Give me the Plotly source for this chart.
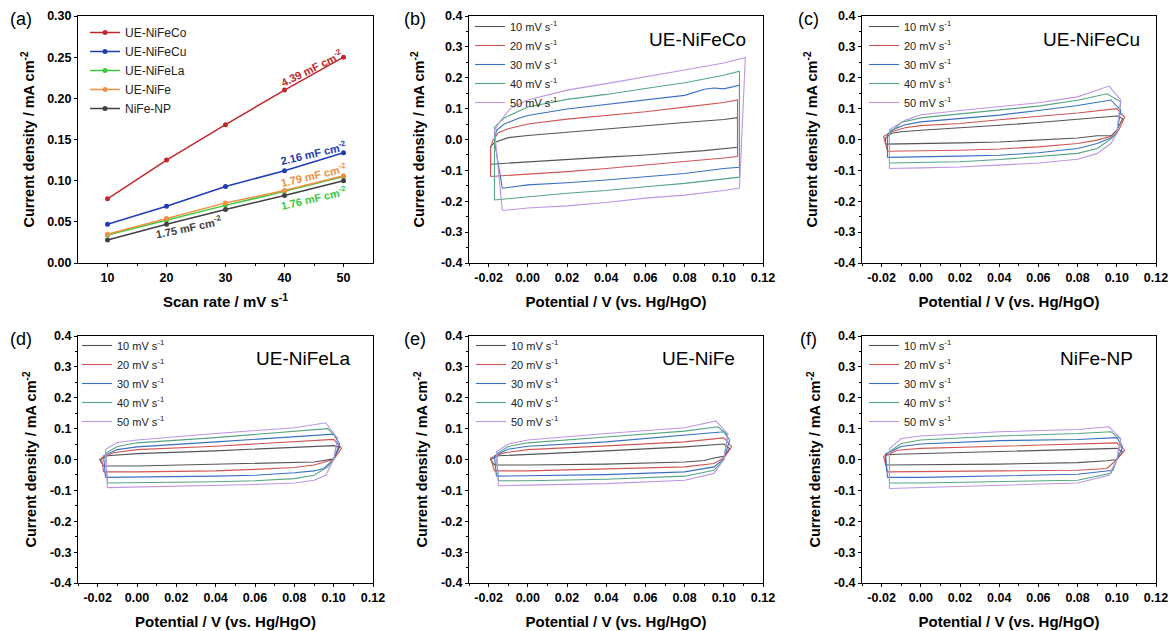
import plotly.graph_objects as go

W, H = 1172, 631

# ---------------- Panel (a) data ----------------
scan_rates = [10, 20, 30, 40, 50]
samples_a = ["UE-NiFeCo", "UE-NiFeCu", "UE-NiFeLa", "UE-NiFe", "NiFe-NP"]
j_NiFeCo = [0.078, 0.125, 0.168, 0.210, 0.250]
j_NiFeCu = [0.047, 0.069, 0.093, 0.112, 0.134]
j_NiFeLa = [0.034, 0.052, 0.070, 0.087, 0.105]
j_NiFe = [0.035, 0.054, 0.073, 0.088, 0.106]
j_NiFeNP = [0.028, 0.047, 0.065, 0.082, 0.100]
colors_a = ["#C0282D", "#1E3CB4", "#3CC83C", "#F09040", "#404040"]
cdl_labels = ["4.39 mF cm<sup>-2</sup>", "2.16 mF cm<sup>-2</sup>", "1.76 mF cm<sup>-2</sup>",
              "1.79 mF cm<sup>-2</sup>", "1.75 mF cm<sup>-2</sup>"]

# ---------------- CV data (potential V, current mA cm-2) ----------------
rate_labels = ["10 mV s<sup>-1</sup>", "20 mV s<sup>-1</sup>", "30 mV s<sup>-1</sup>",
               "40 mV s<sup>-1</sup>", "50 mV s<sup>-1</sup>"]
cv_colors = ["#555555", "#D05555", "#3A70C4", "#55A585", "#BC96E4"]

# (b) UE-NiFeCo
b10 = [(-0.019, -0.080), (-0.019, -0.023), (-0.017, -0.010), (-0.010, 0.006), (0.0, 0.013), (0.02, 0.024),
       (0.04, 0.033), (0.06, 0.045), (0.08, 0.055), (0.10, 0.065), (0.107, 0.071), (0.107, 0.030),
       (0.107, -0.025), (0.09, -0.036), (0.08, -0.041), (0.06, -0.050), (0.04, -0.057), (0.02, -0.065),
       (0.0, -0.072), (-0.015, -0.077), (-0.019, -0.080)]
b20 = [(-0.019, -0.120), (-0.019, -0.030), (-0.018, -0.005), (-0.015, 0.022), (-0.010, 0.035), (0.0, 0.050),
       (0.02, 0.066), (0.04, 0.078), (0.06, 0.090), (0.08, 0.105), (0.10, 0.120), (0.107, 0.128),
       (0.107, -0.055), (0.10, -0.060), (0.08, -0.072), (0.06, -0.083), (0.04, -0.094), (0.02, -0.104),
       (0.0, -0.112), (-0.019, -0.118), (-0.019, -0.120)]
b30 = [(-0.013, -0.158), (-0.017, -0.005), (-0.016, 0.030), (-0.012, 0.050), (-0.005, 0.068), (0.0, 0.078),
       (0.02, 0.099), (0.04, 0.114), (0.06, 0.129), (0.08, 0.143), (0.09, 0.163), (0.095, 0.167),
       (0.10, 0.164), (0.108, 0.176), (0.108, -0.090), (0.10, -0.094), (0.08, -0.110), (0.06, -0.121),
       (0.04, -0.131), (0.02, -0.140), (0.0, -0.147), (-0.013, -0.158)]
b40 = [(-0.017, -0.196), (-0.017, 0.040), (-0.012, 0.070), (-0.005, 0.092), (0.0, 0.105), (0.02, 0.130),
       (0.04, 0.146), (0.06, 0.165), (0.08, 0.184), (0.10, 0.208), (0.108, 0.221), (0.108, -0.122),
       (0.10, -0.128), (0.08, -0.142), (0.06, -0.153), (0.04, -0.165), (0.02, -0.174), (0.0, -0.186),
       (-0.017, -0.196)]
b50 = [(-0.013, -0.230), (-0.017, 0.030), (-0.014, 0.060), (-0.009, 0.100), (0.0, 0.128), (0.02, 0.160),
       (0.04, 0.181), (0.06, 0.202), (0.08, 0.225), (0.10, 0.248), (0.111, 0.266), (0.108, -0.157),
       (0.10, -0.165), (0.08, -0.180), (0.06, -0.190), (0.04, -0.204), (0.02, -0.215), (0.0, -0.222),
       (-0.013, -0.230)]

# (c) UE-NiFeCu
c10 = [(-0.018, -0.015), (-0.018, 0.005), (-0.015, 0.020), (-0.010, 0.025), (0.0, 0.030), (0.02, 0.037),
       (0.04, 0.046), (0.06, 0.055), (0.08, 0.066), (0.10, 0.076), (0.103, 0.068), (0.100, 0.030),
       (0.097, 0.012), (0.09, 0.012), (0.08, 0.005), (0.06, -0.002), (0.04, -0.008), (0.02, -0.011),
       (0.0, -0.013), (-0.018, -0.015)]
c20 = [(-0.017, -0.038), (-0.019, 0.010), (-0.015, 0.025), (-0.008, 0.038), (0.0, 0.045), (0.02, 0.052),
       (0.04, 0.064), (0.06, 0.075), (0.08, 0.086), (0.10, 0.100), (0.104, 0.072), (0.101, 0.030),
       (0.098, 0.012), (0.09, -0.002), (0.08, -0.013), (0.06, -0.024), (0.04, -0.031), (0.02, -0.035),
       (0.0, -0.037), (-0.017, -0.038)]
c30 = [(-0.017, -0.058), (-0.017, 0.015), (-0.015, 0.030), (-0.008, 0.048), (0.0, 0.057), (0.02, 0.068),
       (0.04, 0.079), (0.06, 0.094), (0.08, 0.110), (0.097, 0.128), (0.102, 0.095), (0.100, 0.020),
       (0.098, 0.008), (0.09, -0.013), (0.08, -0.029), (0.06, -0.043), (0.04, -0.051), (0.02, -0.054),
       (0.0, -0.056), (-0.017, -0.058)]
c40 = [(-0.016, -0.076), (-0.016, 0.020), (-0.010, 0.055), (0.0, 0.070), (0.02, 0.083), (0.04, 0.095),
       (0.06, 0.108), (0.08, 0.127), (0.095, 0.148), (0.102, 0.122), (0.100, 0.020), (0.097, 0.002),
       (0.09, -0.029), (0.08, -0.045), (0.06, -0.056), (0.04, -0.065), (0.02, -0.072), (0.0, -0.075),
       (-0.016, -0.076)]
c50 = [(-0.016, -0.094), (-0.016, 0.032), (-0.008, 0.062), (0.0, 0.080), (0.02, 0.094), (0.04, 0.106),
       (0.06, 0.119), (0.08, 0.138), (0.096, 0.173), (0.102, 0.128), (0.100, 0.020), (0.097, -0.013),
       (0.09, -0.045), (0.08, -0.064), (0.06, -0.076), (0.04, -0.083), (0.02, -0.089), (0.0, -0.092),
       (-0.016, -0.094)]

# (d) UE-NiFeLa
d10 = [(-0.017, -0.021), (-0.019, 0.000), (-0.015, 0.012), (0.0, 0.019), (0.04, 0.028), (0.08, 0.039),
       (0.10, 0.045), (0.103, 0.040), (0.100, 0.002), (0.09, -0.008), (0.06, -0.013), (0.04, -0.016),
       (0.0, -0.021), (-0.017, -0.021)]
d20 = [(-0.017, -0.040), (-0.018, 0.005), (-0.012, 0.022), (0.0, 0.032), (0.04, 0.043), (0.08, 0.057),
       (0.10, 0.065), (0.104, 0.036), (0.100, 0.000), (0.09, -0.018), (0.08, -0.026), (0.06, -0.032),
       (0.04, -0.037), (0.0, -0.040), (-0.017, -0.040)]
d30 = [(-0.016, -0.058), (-0.017, 0.012), (-0.010, 0.032), (0.0, 0.041), (0.04, 0.057), (0.08, 0.074),
       (0.10, 0.082), (0.103, 0.050), (0.100, 0.000), (0.095, -0.029), (0.09, -0.037), (0.08, -0.043),
       (0.06, -0.051), (0.04, -0.054), (0.0, -0.058), (-0.016, -0.058)]
d40 = [(-0.015, -0.076), (-0.016, 0.020), (-0.010, 0.042), (0.0, 0.054), (0.04, 0.071), (0.08, 0.090),
       (0.097, 0.100), (0.102, 0.068), (0.100, 0.000), (0.097, -0.024), (0.09, -0.051), (0.08, -0.062),
       (0.06, -0.069), (0.04, -0.072), (0.0, -0.075), (-0.015, -0.076)]
d50 = [(-0.015, -0.091), (-0.016, 0.033), (-0.010, 0.055), (0.0, 0.063), (0.04, 0.084), (0.08, 0.103),
       (0.096, 0.119), (0.102, 0.068), (0.100, 0.000), (0.096, -0.051), (0.09, -0.067), (0.08, -0.076),
       (0.06, -0.081), (0.04, -0.084), (0.0, -0.089), (-0.015, -0.091)]

# (e) UE-NiFe
e10 = [(-0.017, -0.018), (-0.019, 0.000), (-0.015, 0.012), (0.0, 0.017), (0.04, 0.028), (0.08, 0.041),
       (0.10, 0.050), (0.103, 0.035), (0.100, 0.010), (0.095, 0.005), (0.09, -0.003), (0.08, -0.008),
       (0.04, -0.015), (0.0, -0.018), (-0.017, -0.018)]
e20 = [(-0.017, -0.037), (-0.019, 0.005), (-0.012, 0.022), (0.0, 0.032), (0.04, 0.044), (0.08, 0.057),
       (0.10, 0.070), (0.104, 0.041), (0.100, 0.005), (0.095, -0.013), (0.08, -0.024), (0.04, -0.031),
       (0.0, -0.037), (-0.017, -0.037)]
e30 = [(-0.016, -0.054), (-0.017, 0.012), (-0.010, 0.033), (0.0, 0.043), (0.04, 0.057), (0.08, 0.079),
       (0.10, 0.090), (0.103, 0.063), (0.100, 0.002), (0.095, -0.024), (0.08, -0.040), (0.04, -0.049),
       (0.0, -0.054), (-0.016, -0.054)]
e40 = [(-0.015, -0.069), (-0.016, 0.018), (-0.010, 0.042), (0.0, 0.054), (0.04, 0.073), (0.08, 0.092),
       (0.097, 0.106), (0.102, 0.080), (0.100, 0.000), (0.095, -0.035), (0.08, -0.054), (0.04, -0.064),
       (0.0, -0.069), (-0.015, -0.069)]
e50 = [(-0.015, -0.085), (-0.016, 0.025), (-0.010, 0.050), (0.0, 0.063), (0.04, 0.084), (0.08, 0.103),
       (0.096, 0.125), (0.102, 0.083), (0.100, 0.000), (0.095, -0.045), (0.08, -0.067), (0.04, -0.078),
       (0.0, -0.083), (-0.015, -0.085)]

# (f) NiFe-NP
f10 = [(-0.018, -0.018), (-0.018, 0.015), (-0.012, 0.017), (0.0, 0.019), (0.04, 0.025), (0.08, 0.032),
       (0.10, 0.036), (0.103, 0.025), (0.100, 0.000), (0.095, -0.004), (0.08, -0.010), (0.04, -0.015),
       (0.0, -0.018), (-0.018, -0.018)]
f20 = [(-0.017, -0.040), (-0.019, 0.010), (-0.012, 0.030), (0.0, 0.036), (0.04, 0.043), (0.08, 0.050),
       (0.10, 0.054), (0.104, 0.030), (0.100, 0.000), (0.095, -0.029), (0.08, -0.035), (0.04, -0.037),
       (0.0, -0.040), (-0.017, -0.040)]
f30 = [(-0.017, -0.058), (-0.018, 0.018), (-0.010, 0.042), (0.0, 0.050), (0.04, 0.061), (0.08, 0.065),
       (0.10, 0.071), (0.103, 0.040), (0.100, 0.000), (0.098, -0.035), (0.08, -0.048), (0.04, -0.054),
       (0.0, -0.058), (-0.017, -0.058)]
f40 = [(-0.016, -0.076), (-0.016, 0.025), (-0.010, 0.052), (0.0, 0.063), (0.04, 0.076), (0.08, 0.084),
       (0.097, 0.090), (0.102, 0.065), (0.100, 0.000), (0.097, -0.045), (0.08, -0.067), (0.04, -0.072),
       (0.0, -0.076), (-0.016, -0.076)]
f50 = [(-0.016, -0.094), (-0.016, 0.035), (-0.010, 0.068), (0.0, 0.076), (0.04, 0.090), (0.08, 0.097),
       (0.096, 0.106), (0.102, 0.068), (0.100, 0.000), (0.096, -0.051), (0.08, -0.076), (0.04, -0.083),
       (0.0, -0.092), (-0.016, -0.094)]

cv_names = ["UE-NiFeCo", "UE-NiFeCu", "UE-NiFeLa", "UE-NiFe", "NiFe-NP"]
cv_sets = [[b10, b20, b30, b40, b50], [c10, c20, c30, c40, c50], [d10, d20, d30, d40, d50],
           [e10, e20, e30, e40, e50], [f10, f20, f30, f40, f50]]

cv_xticks = [-0.02, 0.00, 0.02, 0.04, 0.06, 0.08, 0.10, 0.12]
cv_xticktext = ["-0.02", "0.00", "0.02", "0.04", "0.06", "0.08", "0.10", "0.12"]
cv_yticks = [-0.4, -0.3, -0.2, -0.1, 0.0, 0.1, 0.2, 0.3, 0.4]
cv_yticktext = ["-0.4", "-0.3", "-0.2", "-0.1", "0.0", "0.1", "0.2", "0.3", "0.4"]
a_yticks = [0.00, 0.05, 0.10, 0.15, 0.20, 0.25, 0.30]

# ---------------- layout geometry (pixels) ----------------
FONT = "Liberation Sans, Arial, sans-serif"
boxes = [(78, 373, 16, 263), (469, 763, 16, 263), (862, 1156, 16, 263),
         (78, 373, 336, 583), (469, 763, 336, 583), (862, 1156, 336, 583)]
ytitle_standoff = [8.5, 12, 12, 9, 9, 9]


def dom_x(l, r):
    return [l / W, r / W]


def dom_y(t, b):
    return [1 - b / H, 1 - t / H]


fig = go.Figure()

series_a = [j_NiFeCo, j_NiFeCu, j_NiFeLa, j_NiFe, j_NiFeNP]
for name, vals, col in zip(samples_a, series_a, colors_a):
    fig.add_trace(go.Scatter(x=scan_rates, y=vals, mode="lines+markers", name=name,
                             line=dict(color=col, width=1.5), marker=dict(color=col, size=5),
                             xaxis="x", yaxis="y", legend="legend"))

for k, curves in enumerate(cv_sets):
    ax = str(k + 2)
    for lab, col, pts in zip(rate_labels, cv_colors, curves):
        fig.add_trace(go.Scatter(x=[p[0] for p in pts], y=[p[1] for p in pts], mode="lines",
                                 name=lab, line=dict(color=col, width=1.1),
                                 xaxis="x" + ax, yaxis="y" + ax, legend="legend" + ax))

axis_common = dict(showline=True, linecolor="black", linewidth=1, mirror=True, showgrid=False,
                   zeroline=False, ticks="outside", ticklen=3, tickwidth=1, tickcolor="black",
                   automargin=True,
                   tickfont=dict(family=FONT, size=12.5, color="black", weight="bold"))

layout = dict(width=W, height=H, margin=dict(l=0, r=0, t=0, b=0, autoexpand=False),
              plot_bgcolor="white", paper_bgcolor="white", showlegend=True, hovermode=False,
              font=dict(family=FONT, color="black"))

for i, (l, r, t, b) in enumerate(boxes):
    sx = "" if i == 0 else str(i + 1)
    xa = dict(axis_common, domain=dom_x(l, r), anchor="y" + sx)
    ya = dict(axis_common, domain=dom_y(t, b), anchor="x" + sx)
    if i == 0:
        xa.update(range=[5, 55], tickvals=scan_rates,
                  minor=dict(ticks="outside", ticklen=2, tickvals=[15, 25, 35, 45], tickcolor="black"),
                  title=dict(text="Scan rate / mV s<sup>-1</sup>", standoff=12,
                             font=dict(family=FONT, size=15, weight="bold")))
        ya.update(range=[0, 0.30], tickvals=a_yticks, tickformat=".2f",
                  title=dict(text="Current density / mA cm<sup>-2</sup>", standoff=ytitle_standoff[i],
                             font=dict(family=FONT, size=14.5, weight="bold")))
    else:
        xa.update(range=[-0.03, 0.12], tickvals=cv_xticks, ticktext=cv_xticktext,
                  minor=dict(ticks="outside", ticklen=2, dtick=0.01, tick0=0, tickcolor="black"),
                  title=dict(text="Potential / V (vs. Hg/HgO)", standoff=12,
                             font=dict(family=FONT, size=15, weight="bold")))
        ya.update(range=[-0.4, 0.4], tickvals=cv_yticks, ticktext=cv_yticktext,
                  minor=dict(ticks="outside", ticklen=2, dtick=0.05, tick0=0, tickcolor="black"),
                  title=dict(text="Current density / mA cm<sup>-2</sup>", standoff=ytitle_standoff[i],
                             font=dict(family=FONT, size=14.5, weight="bold")))
    layout["xaxis" + sx] = xa
    layout["yaxis" + sx] = ya

leg_pos = [(85, 18), (470, 12), (864, 12), (77, 331), (471, 331), (864, 331)]
for i, (lx, ly) in enumerate(leg_pos):
    key = "legend" if i == 0 else "legend" + str(i + 1)
    layout[key] = dict(x=lx / W, y=1 - ly / H, xanchor="left", yanchor="top",
                       bgcolor="rgba(0,0,0,0)", borderwidth=0, tracegroupgap=0,
                       font=dict(family=FONT, size=12 if i == 0 else 11, color="#222222"))

fig.update_layout(**layout)

panel_labels = ["(a)", "(b)", "(c)", "(d)", "(e)", "(f)"]
label_pos = [(21, 19), (415, 19), (808, 19), (21, 339), (415, 339), (808, 339)]
for txt, (px, py) in zip(panel_labels, label_pos):
    fig.add_annotation(text=txt, xref="paper", yref="paper", x=px / W, y=1 - py / H,
                       xanchor="center", yanchor="middle", showarrow=False,
                       font=dict(family=FONT, size=18, color="black"))

name_pos = [(748, 39.5), (1142, 39.5), (352, 358), (737, 358), (1135, 358)]
for txt, (px, py) in zip(cv_names, name_pos):
    fig.add_annotation(text=txt, xref="paper", yref="paper", x=px / W, y=1 - py / H,
                       xanchor="right", yanchor="middle", showarrow=False,
                       font=dict(family=FONT, size=19, color="black"))

cdl_pos = [(44.6, 0.237, -26), (44.9, 0.133, -13), (44.9, 0.079, -13), (44.9, 0.107, -13), (23.8, 0.044, -12)]
for txt, col, (ax_, ay_, ang) in zip(cdl_labels, colors_a, cdl_pos):
    fig.add_annotation(text=txt, xref="x", yref="y", x=ax_, y=ay_, showarrow=False, textangle=ang,
                       font=dict(family=FONT, size=11, color=col, weight="bold"))

fig.write_html("out.html", config={"displayModeBar": False},
               post_script="document.body.style.margin='0px';")
